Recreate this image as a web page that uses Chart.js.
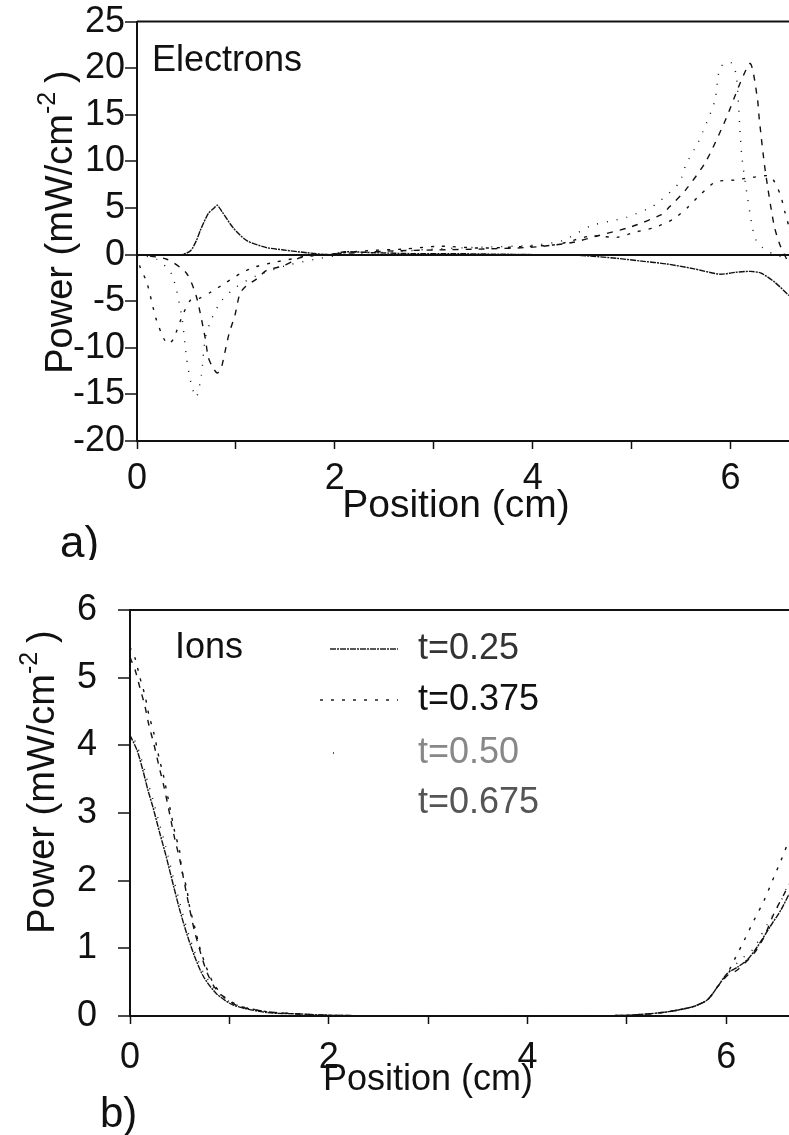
<!DOCTYPE html>
<html>
<head>
<meta charset="utf-8">
<script src="https://cdn.jsdelivr.net/npm/chart.js@4.4.0/dist/chart.umd.min.js"></script>
<style>
  body { margin: 0; background: #fff; }
  #wrap { position: relative; width: 789px; height: 1135px; overflow: hidden; }
  canvas { position: absolute; left: 0; }
</style>
</head>
<body>
<div id="wrap">
  <canvas id="elecChart" width="789" height="560" style="top:0"></canvas>
  <canvas id="ionChart" width="789" height="575" style="top:560px"></canvas>
</div>
<script>
// series labels (times)
const times = ['t=0.25', 't=0.375', 't=0.50', 't=0.675'];

// tick values
const xTicks = [0, 1, 2, 3, 4, 5, 6];
const elecYTicks = [-20, -15, -10, -5, 0, 5, 10, 15, 20, 25];
const ionYTicks = [0, 1, 2, 3, 4, 5, 6];

// a) electrons, position (cm) / power (mW/cm^-2)
const elecX025 = [0, 0.2, 0.45, 0.54, 0.6, 0.64, 0.72, 0.78, 0.81, 0.86, 0.97, 1.11, 1.31, 1.48, 1.72, 1.95, 2.1, 2.4, 2.8, 3.2, 3.6, 4.0, 4.5, 4.85, 5.1, 5.35, 5.62, 5.89, 6.05, 6.2, 6.31, 6.45, 6.59];
const elecY025 = [0, 0, 0, 0.4, 1.5, 2.6, 4.4, 5.0, 5.3, 4.6, 2.9, 1.5, 0.75, 0.5, 0.2, 0, 0.3, 0.2, 0.1, 0.1, 0.05, 0, -0.1, -0.4, -0.7, -1.0, -1.5, -2.1, -1.9, -1.8, -2.0, -3.0, -4.4];

const elecX0375 = [0, 0.03, 0.1, 0.19, 0.27, 0.32, 0.37, 0.45, 0.54, 0.63, 0.75, 0.9, 1.05, 1.2, 1.4, 1.6, 1.8, 2.0, 2.3, 2.7, 3.06, 3.46, 3.87, 4.25, 4.59, 4.85, 5.03, 5.23, 5.42, 5.57, 5.7, 5.85, 6.04, 6.23, 6.4, 6.5, 6.55, 6.59];
const elecY0375 = [0, -1.3, -3.0, -6.8, -9.0, -9.6, -9.0, -6.8, -4.9, -4.7, -4.0, -3.0, -2.0, -1.3, -0.8, -0.4, -0.1, 0.1, 0.4, 0.6, 0.9, 0.7, 0.85, 1.1, 2.0, 1.85, 2.4, 2.9, 3.8, 5.1, 6.5, 7.8, 8.0, 8.3, 8.4, 6.5, 4.5, 3.0];

const elecX050 = [0, 0.2, 0.35, 0.45, 0.5, 0.55, 0.6, 0.65, 0.69, 0.75, 0.85, 1.0, 1.2, 1.5, 1.8, 2.1, 2.6, 3.0, 3.5, 4.0, 4.3, 4.59, 4.79, 4.95, 5.2, 5.28, 5.48, 5.55, 5.67, 5.72, 5.84, 5.89, 5.96, 6.02, 6.06, 6.11, 6.15, 6.22, 6.26, 6.35, 6.45, 6.59];
const elecY050 = [0, -0.5, -2.1, -6.5, -11, -14, -15.3, -13, -9, -7, -5, -3.5, -2.3, -1.2, -0.5, 0, 0.3, 0.6, 0.8, 1.0, 1.5, 3.1, 3.6, 4.0, 5.1, 5.7, 7.7, 9.7, 12.0, 13.2, 16.5, 20.0, 20.6, 20.5, 19.0, 10.9, 7.6, 2.9, 1.5, 0.5, 0, -0.5];

const elecX0675 = [0, 0.3, 0.5, 0.6, 0.69, 0.72, 0.76, 0.81, 0.85, 0.89, 0.93, 0.99, 1.04, 1.1, 1.21, 1.31, 1.48, 1.61, 1.71, 1.9, 2.2, 2.6, 3.0, 3.5, 4.0, 4.4, 4.65, 5.0, 5.3, 5.38, 5.55, 5.75, 5.95, 6.1, 6.2, 6.27, 6.29, 6.35, 6.44, 6.5, 6.59];
const elecY0675 = [0, -0.5, -2, -4.5, -9, -11, -12, -12.7, -12.2, -10.4, -8.5, -6.5, -4.2, -3.4, -2.6, -1.7, -1.2, -0.5, -0.1, 0, 0.2, 0.4, 0.5, 0.6, 0.8, 1.3, 2.0, 3.0, 4.3, 5.1, 7.0, 10.0, 14.5, 18.5, 20.5, 16.8, 14.5, 9.0, 3.1, 1.0, -1.0];

// b) ions
const ionX025 = [0, 0.07, 0.13, 0.18, 0.23, 0.30, 0.36, 0.44, 0.50, 0.57, 0.65, 0.74, 0.87, 1.04, 1.38, 1.71, 2.0, 3.0, 4.0, 5.0, 5.4, 5.67, 5.81, 5.91, 6.01, 6.11, 6.21, 6.31, 6.44, 6.55, 6.63];
const ionY025 = [4.15, 3.93, 3.63, 3.34, 3.09, 2.70, 2.38, 1.91, 1.57, 1.22, 0.88, 0.58, 0.33, 0.16, 0.05, 0.03, 0.01, 0, 0, 0.01, 0.06, 0.14, 0.24, 0.43, 0.63, 0.72, 0.83, 1.02, 1.32, 1.57, 1.8];

const ionX0375 = [0, 0.05, 0.1, 0.15, 0.19, 0.24, 0.29, 0.34, 0.40, 0.45, 0.50, 0.52, 0.57, 0.60, 0.65, 0.70, 0.76, 0.84, 0.95, 1.1, 1.4, 1.7, 2.0, 3.0, 4.0, 5.0, 5.4, 5.67, 5.81, 5.91, 6.01, 6.08, 6.18, 6.28, 6.38, 6.48, 6.55, 6.63];
const ionY0375 = [5.45, 5.29, 5.0, 4.74, 4.45, 4.18, 3.83, 3.53, 3.09, 2.72, 2.43, 2.16, 1.89, 1.61, 1.32, 1.02, 0.75, 0.48, 0.28, 0.15, 0.06, 0.03, 0.01, 0, 0, 0.01, 0.06, 0.14, 0.24, 0.43, 0.63, 0.83, 1.12, 1.42, 1.71, 2.06, 2.3, 2.6];

const ionX050 = [0, 0.07, 0.13, 0.18, 0.23, 0.30, 0.36, 0.44, 0.50, 0.57, 0.65, 0.74, 0.87, 1.04, 1.38, 1.71, 2.0, 3.0, 4.0, 5.0, 5.4, 5.67, 5.81, 5.91, 6.01, 6.14, 6.28, 6.34, 6.41, 6.55, 6.63];
const ionY050 = [4.2, 4.0, 3.72, 3.45, 3.2, 2.82, 2.5, 2.02, 1.68, 1.3, 0.95, 0.64, 0.37, 0.18, 0.06, 0.03, 0.01, 0, 0, 0.01, 0.06, 0.14, 0.24, 0.43, 0.63, 0.83, 1.0, 1.17, 1.35, 1.7, 2.0];

const ionX0675 = [0, 0.05, 0.1, 0.15, 0.19, 0.24, 0.29, 0.34, 0.40, 0.45, 0.50, 0.57, 0.65, 0.76, 0.84, 0.95, 1.1, 1.4, 1.7, 2.0, 3.0, 4.0, 5.0, 5.4, 5.67, 5.81, 5.91, 6.01, 6.11, 6.28, 6.38, 6.48, 6.58, 6.63];
const ionY0675 = [5.3, 5.12, 4.85, 4.58, 4.3, 4.02, 3.7, 3.4, 2.98, 2.62, 2.32, 1.8, 1.25, 0.7, 0.45, 0.27, 0.14, 0.06, 0.03, 0.01, 0, 0, 0.01, 0.06, 0.14, 0.24, 0.43, 0.6, 0.68, 0.93, 1.17, 1.52, 1.8, 1.95];

const FONT = '"Liberation Sans", Arial, Helvetica, sans-serif';
const dashes = [[6, 1, 2, 1], [3, 8], [1, 9], [6, 7]];

function pts(xs, ys) {
  return xs.map((x, i) => ({x: x, y: ys[i]}));
}

function makeSets(series) {
  return series.map((s, i) => ({
    label: times[i],
    data: pts(s[0], s[1]),
    borderColor: '#111',
    borderWidth: 1.4,
    borderDash: dashes[i],
    pointRadius: 0,
    tension: 0.25,
    fill: false
  }));
}

function drawYTitle(ctx, bx, cy) {
  ctx.save();
  ctx.translate(bx, cy);
  ctx.rotate(-Math.PI / 2);
  ctx.fillStyle = '#111';
  ctx.textBaseline = 'alphabetic';
  ctx.textAlign = 'left';
  const main = '38px ' + FONT, sup = '25px ' + FONT;
  ctx.font = main;
  const w1 = ctx.measureText('Power (mW/cm').width;
  const w3 = ctx.measureText(')').width;
  ctx.font = sup;
  const w2 = ctx.measureText('-2').width;
  const gap = 9;
  let x = -(w1 + w2 + gap + w3) / 2;
  ctx.font = main;
  ctx.fillText('Power (mW/cm', x, 0);
  x += w1;
  ctx.font = sup;
  ctx.fillText('-2', x, -17);
  x += w2 + gap;
  ctx.font = main;
  ctx.fillText(')', x, 0);
  ctx.restore();
}

function txt(ctx, s, x, y, size, color, align) {
  ctx.save();
  ctx.font = size + 'px ' + FONT;
  ctx.fillStyle = color || '#111';
  ctx.textAlign = align || 'left';
  ctx.textBaseline = 'middle';
  ctx.fillText(s, x, y);
  ctx.restore();
}

// top frame line, titles, panel letters and (ions) legend
const decor = {
  id: 'decor',
  afterDraw(chart, args, opts) {
    const ctx = chart.ctx, a = chart.chartArea;
    ctx.save();
    ctx.strokeStyle = '#111';
    ctx.lineWidth = 2;
    ctx.beginPath();
    ctx.moveTo(a.left, a.top);
    ctx.lineTo(chart.width + 5, a.top);
    ctx.stroke();
    ctx.restore();
    drawYTitle(ctx, opts.yTitleX, opts.yTitleY);
    txt(ctx, 'Position (cm)', opts.xTitleX, opts.xTitleY, opts.xTitleSize, '#111', 'center');
    txt(ctx, opts.panel, opts.panelX, opts.panelY, opts.panelSize, '#111', 'left');
    txt(ctx, opts.name, opts.nameX, opts.nameY, 36, '#111', 'left');
    if (opts.legend) {
      const cols = ['#333', '#111', '#888', '#555'];
      const ys = [89, 140, 193, 243];
      chart.data.datasets.forEach((d, i) => {
        if (i < 3) {
          ctx.save();
          ctx.strokeStyle = '#222';
          ctx.lineWidth = 1.4;
          ctx.setLineDash(d.borderDash);
          ctx.beginPath();
          ctx.moveTo(i === 2 ? 333 : (i === 0 ? 330 : 320), ys[i]);
          ctx.lineTo(i === 2 ? 335 : 398, ys[i]);
          ctx.stroke();
          ctx.restore();
        }
        txt(ctx, d.label, 418, ys[i], 36, cols[i], 'left');
      });
    }
  }
};

function scales(o) {
  return {
    x: {
      type: 'linear',
      min: 0,
      max: o.xMax,
      afterBuildTicks: s => { s.ticks = xTicks.map(v => ({value: v})); },
      afterFit: s => { s.height = o.xHeight; },
      ticks: {
        autoSkip: false,
        maxRotation: 0,
        padding: o.xPad,
        color: '#111',
        font: {family: FONT, size: 36},
        callback: v => (v % 2 === 0 ? String(v) : '')
      },
      grid: {drawOnChartArea: false, tickColor: '#111', tickLength: 8, tickWidth: 1.5},
      border: {color: '#111', width: 2}
    },
    y: {
      min: o.yMin,
      max: o.yMax,
      afterBuildTicks: s => { s.ticks = o.yTicks.map(v => ({value: v})); },
      afterFit: s => { s.width = o.yWidth; },
      ticks: {
        padding: o.yPad,
        color: '#111',
        font: {family: FONT, size: 36}
      },
      grid: {
        color: c => (o.zeroLine && c.tick && c.tick.value === 0 ? '#111' : 'rgba(0,0,0,0)'),
        lineWidth: 2,
        tickColor: '#111',
        tickLength: 12,
        tickWidth: 1.5
      },
      border: {color: '#111', width: 2}
    }
  };
}

const elecChart = new Chart(document.getElementById('elecChart').getContext('2d'), {
  type: 'line',
  data: {
    datasets: makeSets([[elecX025, elecY025], [elecX0375, elecY0375], [elecX050, elecY050], [elecX0675, elecY0675]])
  },
  options: {
    responsive: false,
    animation: false,
    devicePixelRatio: 1,
    layout: {padding: {top: 20, right: 0, left: 0, bottom: 0}},
    plugins: {
      legend: {display: false},
      tooltip: {enabled: false},
      decor: {yTitleX: 72, yTitleY: 222, xTitleX: 456, xTitleY: 506, xTitleSize: 39, panel: 'a)', panelX: 60, panelY: 545, panelSize: 44, name: 'Electrons', nameX: 152, nameY: 61}
    },
    scales: scales({xMax: 6.59, xHeight: 119, xPad: 8, yMin: -20, yMax: 25, yTicks: elecYTicks, yWidth: 137, yPad: 0, zeroLine: true})
  },
  plugins: [decor]
});

const ionChart = new Chart(document.getElementById('ionChart').getContext('2d'), {
  type: 'line',
  data: {
    datasets: makeSets([[ionX025, ionY025], [ionX0375, ionY0375], [ionX050, ionY050], [ionX0675, ionY0675]])
  },
  options: {
    responsive: false,
    animation: false,
    devicePixelRatio: 1,
    layout: {padding: {top: 50, right: 0, left: 0, bottom: 0}},
    plugins: {
      legend: {display: false},
      tooltip: {enabled: false},
      decor: {yTitleX: 54, yTitleY: 222, xTitleX: 428, xTitleY: 520, xTitleSize: 36, panel: 'b)', panelX: 100, panelY: 555, panelSize: 42, name: 'Ions', nameX: 175, nameY: 88, legend: true}
    },
    scales: scales({xMax: 6.63, xHeight: 119, xPad: 12, yMin: 0, yMax: 6, yTicks: ionYTicks, yWidth: 130, yPad: 21, zeroLine: false})
  },
  plugins: [decor]
});
</script>
</body>
</html>
